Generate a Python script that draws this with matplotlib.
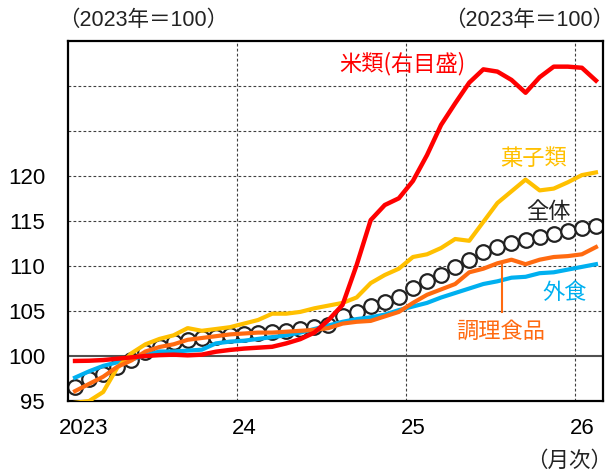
import matplotlib
matplotlib.use("Agg")
import matplotlib.pyplot as plt
import numpy as np

plt.rcParams['font.family'] = ['Liberation Sans', 'Noto Sans CJK JP', 'DejaVu Sans']

# Monthly data, Jan 2023 - Feb 2026 (2023 = 100)
overall = [96.5, 97.4, 98.0, 98.8, 99.6, 100.4, 101.0, 101.5, 101.8, 102.0, 102.1, 102.3,
           102.4, 102.6, 102.7, 102.8, 103.0, 103.2, 103.4, 104.4, 104.9, 105.6, 106.0, 106.6,
           107.5, 108.3, 109.0, 109.9, 110.7, 111.6, 112.1, 112.5, 112.9, 113.2, 113.6, 113.9,
           114.2, 114.4]
confectionery = [94.8, 95.0, 96.0, 98.7, 100.3, 101.3, 101.9, 102.3, 103.1, 102.8, 103.0, 103.2,
                 103.6, 104.0, 104.7, 104.7, 104.9, 105.3, 105.6, 105.9, 106.5, 108.1, 109.0, 109.7,
                 111.0, 111.3, 112.0, 113.0, 112.8, 114.9, 117.0, 118.3, 119.6, 118.4, 118.6, 119.3,
                 120.1, 120.4]
cooked = [96.1, 96.9, 97.7, 98.8, 99.5, 100.5, 101.0, 101.3, 101.8, 102.0, 102.2, 102.4,
          102.5, 102.6, 102.6, 102.7, 102.8, 102.9, 103.1, 103.6, 103.8, 103.9, 104.4, 104.9,
          105.9, 106.8, 107.4, 108.0, 109.3, 109.7, 110.3, 110.7, 110.2, 110.7, 111.0, 111.1,
          111.3, 112.1]
dining_out = [97.6, 98.3, 98.9, 99.3, 99.6, 100.1, 100.5, 100.5, 100.6, 100.7, 101.4, 101.6,
              101.7, 101.9, 102.1, 102.3, 102.6, 103.0, 103.4, 103.8, 104.1, 104.3, 104.6, 105.1,
              105.5, 105.9, 106.5, 107.0, 107.5, 108.0, 108.3, 108.7, 108.8, 109.2, 109.3, 109.6,
              109.9, 110.2]
rice = [97.8, 97.9, 98.2, 98.8, 99.4, 100.0, 100.4, 100.6, 100.3, 100.6, 101.9, 102.7,
        103.3, 103.7, 104.1, 105.6, 107.5, 110.4, 116.0, 122.7, 140.4, 160.4, 167.1, 170.1,
        177.8, 189.3, 202.7, 212.3, 221.5, 227.4, 226.4, 222.7, 217.0, 223.9, 228.6, 228.6,
        228.1, 222.4]

year_labels = ['2023', '24', '25', '26']
year_label_pos = [1.1, 12.5, 24.5, 36.5]
year_grid = [12, 24, 36]
left_ticks = [95, 100, 105, 110, 115, 120]

x = np.arange(len(overall)) + 0.5

fig = plt.figure(figsize=(6.14, 4.75), dpi=100)
ax = fig.add_axes([68/614, 74/475, 535/614, 360/475])
ax.set_xlim(0, 38)
ax.set_ylim(95, 135)

grid_kw = dict(color='#404040', lw=0.8, ls=(0, (2.5, 2)), zorder=1)
for g in year_grid:
    ax.axvline(g, **grid_kw)
for yv in [105, 110, 115, 120, 125, 130]:
    ax.axhline(yv, **grid_kw)
ax.axhline(100, color='#505050', lw=1.5, zorder=1)

ax.plot(x, overall, ls='none', marker='o', ms=10.5, mfc='white', mec='#222222', mew=1.6, zorder=2)
ax.plot(x, dining_out, color='#00B0F0', lw=3, zorder=3)
ax.plot(x, confectionery, color='#FFC000', lw=3, zorder=3)
ax.plot(x, cooked, color='#FF6A10', lw=3, zorder=4)

ax.set_yticks(left_ticks)
ax.set_yticklabels([str(t) for t in left_ticks])
ax.set_xticks(year_label_pos)
ax.set_xticklabels(year_labels)
ax.tick_params(axis='y', length=0, pad=16.5, labelsize=16)
ax.tick_params(axis='x', length=0, pad=12, labelsize=16)
for s in ax.spines.values():
    s.set_linewidth(1.6)
    s.set_color('black')

ax2 = ax.twinx()
ax2.set_ylim(80, 240)
ax2.plot(x, rice, color='#FF0000', lw=3.2, zorder=5)
ax2.set_yticks([])
for s in ax2.spines.values():
    s.set_visible(False)

ax.set_xlim(0, 38)

cjk = ['Noto Sans CJK JP', 'DejaVu Sans']
# annotations
ax.text(23.74, 132.5, '米類(右目盛)', color='#FF0000', fontsize=16, family=cjk,
        ha='center', va='center', zorder=6)
ax.text(33.05, 121.9, '菓子類', color='#FFC000', fontsize=16, family=cjk, ha='center', va='center', zorder=6)
ax.text(34.1, 116.1, '全体', color='#222222', fontsize=16, family=cjk, ha='center', va='center', zorder=6)
ax.text(35.25, 107.0, '外食', color='#00B0F0', fontsize=16, family=cjk, ha='center', va='center', zorder=6)
ax.text(30.7, 102.7, '調理食品', color='#FF6A10', fontsize=16, family=cjk, ha='center', va='center', zorder=6)
ax.plot([30.85, 30.85], [104.9, 110.1], color='#FF6A10', lw=1.5, zorder=4)

fig.text(58/614, 1 - 20/475, '（2023年＝100）', fontsize=15.5, ha='left', va='center', color='#222222')
fig.text(614/614, 1 - 20/475, '（2023年＝100）', fontsize=15.5, ha='right', va='center', color='#222222')
fig.text(612/614, 1 - 461/475, '（月次）', fontsize=15.5, ha='right', va='center', color='#222222')

fig.savefig('out.png', dpi=100)
